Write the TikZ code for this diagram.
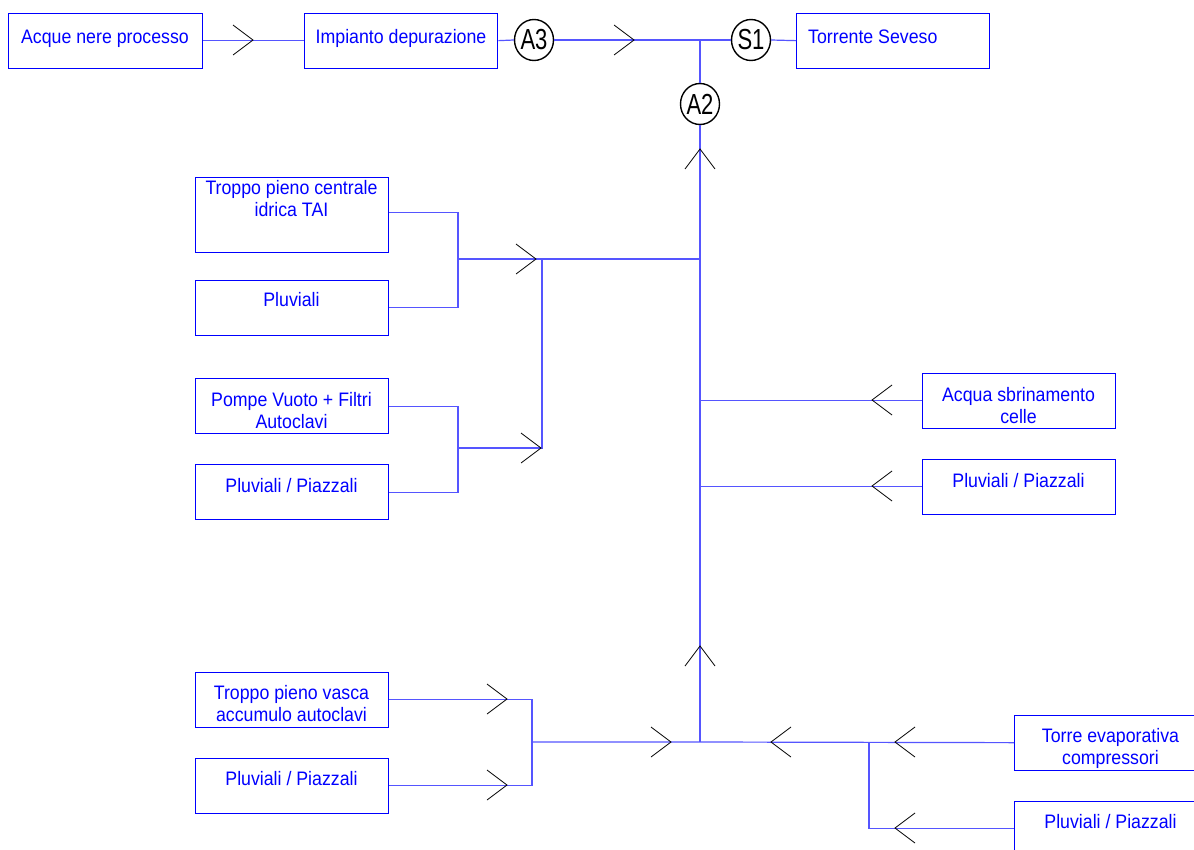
\documentclass[tikz,border=0pt]{standalone}
\usepackage{fontspec}
\setmainfont{Liberation Sans}[FakeStretch=0.91]
\newfontfamily\circfont{Liberation Sans}[FakeStretch=0.76]
\usetikzlibrary{shapes.geometric,calc}
\definecolor{boxblue}{RGB}{0,0,255}
\definecolor{pipeblue}{RGB}{85,85,255}
\begin{document}
\begin{tikzpicture}[x=1pt,y=-1pt,
  box/.style={draw=boxblue, line width=1.3pt, minimum width=193pt, minimum height=55pt, inner sep=0pt, anchor=north west},
  lbl/.style={text=boxblue, font=\fontsize{19.5}{22}\selectfont, align=center, inner sep=0pt, anchor=base},
  pipe/.style={draw=pipeblue, line width=1.2pt},
  meter/.style={ellipse, draw=black, line width=1.4pt, fill=white, minimum width=39pt, minimum height=41pt, inner sep=0pt, font=\circfont\fontsize{29}{29}\selectfont},
  chev/.pic={\draw[black, line width=0.8pt] (-20,-15) -- (0,0) -- (-20,15);}
]
\fill[white] (0,0) rectangle (1194,849);
\useasboundingbox (0,0) rectangle (1194,849);
\clip (0,0) rectangle (1194,849);

% boxes
\node[box, minimum width=194pt] (a1) at (8,12.5) {};
\node[box] (a2) at (304,12.5) {};
\node[box] (a3) at (796,12.5) {};
\node[box, minimum height=75pt] (b1) at (195,177) {};
\node[box] (b2) at (195,279.5) {};
\node[box] (b3) at (195,378) {};
\node[box] (b4) at (195,464) {};
\node[box] (r1) at (922,372.5) {};
\node[box] (r2) at (922,458.5) {};
\node[box] (c1) at (195,671.5) {};
\node[box] (c2) at (195,757.5) {};
\node[box] (d1) at (1014,714.5) {};
\node[box] (d2) at (1014,800.5) {};

% labels (multi-line labels: base = last line)
\node[lbl] (ta1) at (105,43) {Acque nere processo};
\node[lbl] (ta2) at (401,43) {Impianto depurazione};
\node[lbl, anchor=base west] (ta3) at (808,43) {Torrente Seveso};
\node[lbl] (tb1) at (291.5,216) {Troppo pieno centrale\\idrica TAI};
\node[lbl] (tb2) at (291.5,306.7) {Pluviali};
\node[lbl] (tb3) at (291.5,428.3) {Pompe Vuoto + Filtri\\Autoclavi};
\node[lbl] (tb4) at (291.5,492.3) {Pluviali / Piazzali};
\node[lbl] (tr1) at (1018.5,423.3) {Acqua sbrinamento\\celle};
\node[lbl] (tr2) at (1018.5,487.3) {Pluviali / Piazzali};
\node[lbl] (tc1) at (291.5,721.7) {Troppo pieno vasca\\accumulo autoclavi};
\node[lbl] (tc2) at (291.5,785) {Pluviali / Piazzali};
\node[lbl] (td1) at (1110.5,764.3) {Torre evaporativa\\compressori};
\node[lbl] (td2) at (1110.5,828.3) {Pluviali / Piazzali};

% junction coordinates
\coordinate (J0) at (700,40);
\coordinate (JL1) at (458,259);
\coordinate (H1) at (700,259);
\coordinate (M1) at (542,259);
\coordinate (M2) at (542,448);
\coordinate (JL2) at (458,448);
\coordinate (J1) at (700,742);
\coordinate (B1) at (532,742);
\coordinate (K3) at (869,742);

% meters
\node[meter] (A3) at (534,40) {A3};
\node[meter] (S1) at (751,40) {S1};
\node[meter] (A2) at (700,104) {A2};

% connectors
\draw[pipe] (a1.east) -- (a2.west);
\draw[pipe] (a2.east) -- (A3.west);
\draw[pipe] (A3.east) -- (J0) -- (S1.west);
\draw[pipe] (S1.east) -- (a3.west);
\draw[pipe] (J0) -- (A2.north);
\draw[pipe] (A2.south) -- (J1);
\draw[pipe] ([yshift=2.5pt]b1.east) -| (JL1) |- (b2.east);
\draw[pipe] (JL1) -- (H1);
\draw[pipe] (b3.east) -| (JL2) |- (b4.east);
\draw[pipe] (JL2) -- (M2) -- (M1);
\draw[pipe] (r1.west) -- (r1.west -| J1);
\draw[pipe] (r2.west) -- (r2.west -| J1);
\draw[pipe] (c1.east) -| (B1) |- (c2.east);
\draw[pipe] (B1) -- (J1) -- (d1.west);
\draw[pipe] (K3) |- (d2.west);

% flow chevrons
\foreach \p in {(253,40),(634,40),(536,259),(541,448),(507,699),(507,785),(671,742)}
  \pic at \p {chev};
\foreach \p in {(872,400),(872,486),(771,742),(895,742),(895,828)}
  \pic[rotate=180] at \p {chev};
\foreach \p in {(700,149),(700,646)}
  \pic[rotate=90] at \p {chev};
\end{tikzpicture}
\end{document}
